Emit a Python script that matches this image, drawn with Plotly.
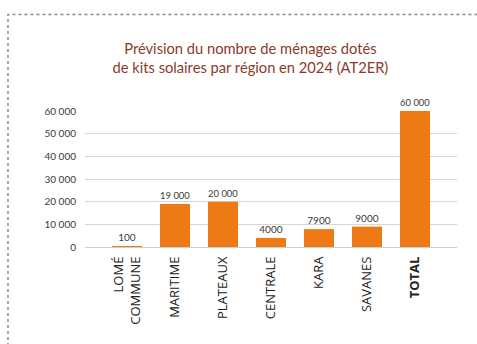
import plotly.graph_objects as go

# Regional forecast of households equipped with solar kits (2024)
regions = ["LOMÉ<br>COMMUNE", "MARITIME", "PLATEAUX", "CENTRALE", "KARA", "SAVANES", "<b>TOTAL</b>"]
households = [100, 19000, 20000, 4000, 7900, 9000, 60000]
tick_values = [0, 10000, 20000, 30000, 40000, 50000, 60000]
tick_labels = ["0", "10 000", "20 000", "30 000", "40 000", "50 000", "60 000"]


def fmt(v):
    # thousands separated by a space only from five digits upward
    return f"{v:,}".replace(",", " ") if v >= 10000 else str(v)


ORANGE = "#ee7a15"
TEXT = "#3a3a3a"

fig = go.Figure(
    go.Bar(
        x=list(range(len(regions))),
        y=households,
        text=[fmt(v) for v in households],
        textposition="outside",
        textfont=dict(family="Lato", size=10, color=TEXT),
        marker=dict(color=ORANGE, line=dict(width=0)),
        width=0.625,
        cliponaxis=False,
    )
)

fig.update_layout(
    width=477,
    height=344,
    margin=dict(l=85, r=20, t=111, b=97),
    paper_bgcolor="white",
    plot_bgcolor="white",
    showlegend=False,
    font=dict(family="Lato", color=TEXT),
    title=dict(
        text="Prévision du nombre de ménages dotés<br>de kits solaires par région en 2024 (AT2ER)",
        x=0.525,
        xanchor="center",
        y=0.843,
        yanchor="middle",
        font=dict(family="Lato", size=14.7, color="#8a3b2b"),
    ),
    xaxis=dict(
        tickmode="array",
        tickvals=list(range(len(regions))),
        ticktext=regions,
        tickangle=-90,
        range=[-0.875, 6.875],
        showgrid=False,
        zeroline=False,
        showline=False,
        ticks="",
        ticklabelstandoff=6,
        tickfont=dict(family="Open Sans", size=13, color="#222"),
    ),
    yaxis=dict(
        tickmode="array",
        tickvals=tick_values,
        ticktext=tick_labels,
        range=[0, 60000],
        showgrid=True,
        gridcolor="#d6d6d6",
        gridwidth=1,
        zeroline=True,
        zerolinecolor="#cfcfcf",
        zerolinewidth=1,
        showline=False,
        ticks="",
        ticklabelstandoff=8,
        tickfont=dict(family="Lato", size=10, color=TEXT),
    ),
    shapes=[
        dict(
            type="rect",
            xref="paper",
            yref="paper",
            x0=-0.207,
            x1=1.07,
            y0=-0.8,
            y1=1.71,
            line=dict(color="#8a8a8a", width=1.5, dash="dot"),
            fillcolor="rgba(0,0,0,0)",
            layer="below",
        )
    ],
)

fig.write_html("out.html")
